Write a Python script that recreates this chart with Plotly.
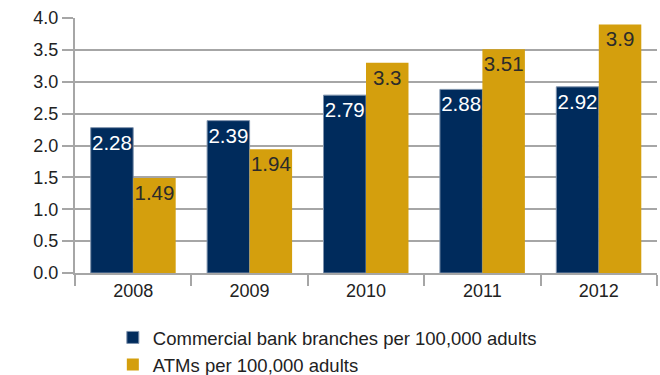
import plotly.graph_objects as go

years = ["2008", "2009", "2010", "2011", "2012"]
branches = [2.28, 2.39, 2.79, 2.88, 2.92]
atms = [1.49, 1.94, 3.3, 3.51, 3.9]
series_names = ["Commercial bank branches per 100,000 adults", "ATMs per 100,000 adults"]
y_ticks = [0.0, 0.5, 1.0, 1.5, 2.0, 2.5, 3.0, 3.5, 4.0]
y_tick_labels = ["0.0", "0.5", "1.0", "1.5", "2.0", "2.5", "3.0", "3.5", "4.0"]

NAVY = "#002B5C"
GOLD = "#D49F0D"
FONT = "Liberation Sans, Arial, sans-serif"

fig = go.Figure()
fig.add_trace(go.Bar(
    x=years, y=branches, name=series_names[0], legendgroup="a",
    marker=dict(color=NAVY, line=dict(color="#7F93AD", width=1)),
    text=[f"{v:g}" for v in branches], textposition="inside", insidetextanchor="end",
    textangle=0, constraintext="none",
    textfont=dict(color="white", size=20.5, family=FONT),
))
fig.add_trace(go.Bar(
    x=years, y=atms, name=series_names[1], legendgroup="b",
    marker=dict(color=GOLD, line=dict(width=0)),
    text=[f"{v:g}" for v in atms], textposition="inside", insidetextanchor="end",
    textangle=0, constraintext="none",
    textfont=dict(color="#2b2b2b", size=20.5, family=FONT),
))

fig.update_layout(
    width=660, height=375,
    margin=dict(l=75, r=3, t=18, b=102, autoexpand=False),
    paper_bgcolor="white", plot_bgcolor="white",
    font=dict(family=FONT, size=18, color="#222222"),
    barmode="group", bargap=0.27, bargroupgap=0,
    showlegend=True,
    legend=dict(
        orientation="v", x=0.065, xanchor="left", y=-0.18, yanchor="top",
        font=dict(size=18.5, color="#222222"), tracegroupgap=0,
        bgcolor="rgba(0,0,0,0)",
    ),
    xaxis=dict(
        type="category", tickson="boundaries", ticks="outside", ticklen=11,
        tickcolor="#A6A6A6", tickwidth=2, automargin=False,
        showline=True, linecolor="#A6A6A6", linewidth=2,
        showgrid=False, tickfont=dict(size=18, color="#222222"),
    ),
    yaxis=dict(
        range=[0, 4], tickvals=y_ticks, ticktext=y_tick_labels,
        ticks="outside", ticklen=11, tickcolor="#A6A6A6", tickwidth=2,
        showline=True, linecolor="#A6A6A6", linewidth=2, automargin=False,
        showgrid=True, gridcolor="#A6A6A6", gridwidth=2, zeroline=False,
        tickfont=dict(size=18, color="#222222"),
    ),
)

fig.write_html(
    "out.html",
    config={"displayModeBar": False},
    post_script="document.body.style.margin='0';document.body.style.overflow='hidden';",
)
